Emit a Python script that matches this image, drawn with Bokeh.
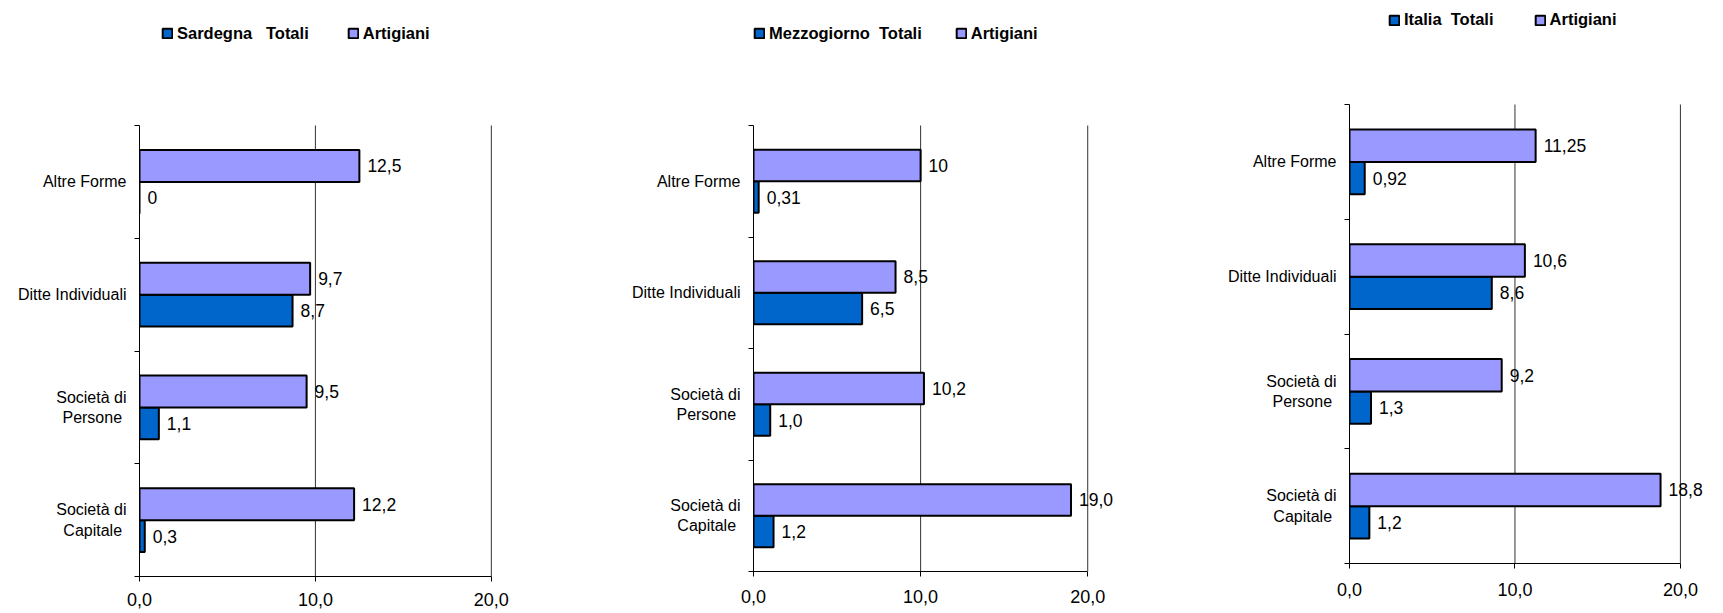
from bokeh.plotting import figure
from bokeh.models import Range1d, FixedTicker, ColumnDataSource, Legend, LegendItem
from bokeh.layouts import row
from bokeh.embed import file_html
from bokeh.resources import INLINE
from bokeh.core.properties import value

# ---------------- data ----------------
categories = ["Altre Forme", "Ditte Individuali", "Società di\nPersone\u00a0", "Società di\nCapitale\u00a0"]
x_ticks = [0, 10, 20]
x_tick_labels = ["0,0", "10,0", "20,0"]

sardegna_totali = [0, 8.7, 1.1, 0.3]
sardegna_totali_labels = ["0", "8,7", "1,1", "0,3"]
sardegna_artigiani = [12.5, 9.7, 9.5, 12.2]
sardegna_artigiani_labels = ["12,5", "9,7", "9,5", "12,2"]

mezzogiorno_totali = [0.31, 6.5, 1.0, 1.2]
mezzogiorno_totali_labels = ["0,31", "6,5", "1,0", "1,2"]
mezzogiorno_artigiani = [10, 8.5, 10.2, 19.0]
mezzogiorno_artigiani_labels = ["10", "8,5", "10,2", "19,0"]

italia_totali = [0.92, 8.6, 1.3, 1.2]
italia_totali_labels = ["0,92", "8,6", "1,3", "1,2"]
italia_artigiani = [11.25, 10.6, 9.2, 18.8]
italia_artigiani_labels = ["11,25", "10,6", "9,2", "18,8"]

series_names = [
    ("Sardegna\u00a0\u00a0\u00a0Totali", "Artigiani"),
    ("Mezzogiorno\u00a0\u00a0Totali", "Artigiani"),
    ("Italia\u00a0\u00a0Totali", "Artigiani"),
]

# ---------------- style ----------------
FONT = "Liberation Sans"
COL_TOT = "#0066CC"
COL_ART = "#9999FF"
BAR_H = 0.283
N = len(categories)
centers = [N - 0.5 - i for i in range(N)]
BORDER_BOTTOM = 37


def make_panel(tot, tot_lab, art, art_lab, names, width,
               bl, br, cat_top, axis_y, xmax, x_standoff, leg_x, leg_cy, leg_spacing):
    # frame spans the canvas from 0 to axis_y; the category band [0, N] is
    # mapped to [cat_top, axis_y], the space above holds the legend
    height = axis_y + BORDER_BOTTOM
    ymax = N * axis_y / (axis_y - cat_top)
    p = figure(width=width, height=height, output_backend="svg",
               toolbar_location=None, x_range=Range1d(0, xmax),
               y_range=Range1d(0, ymax),
               min_border_left=bl, min_border_right=br,
               min_border_top=0, min_border_bottom=BORDER_BOTTOM)
    p.outline_line_color = None
    p.background_fill_color = "white"
    p.border_fill_color = "white"

    # gridlines at the value ticks, only over the category area
    p.segment(x0=x_ticks[1:], x1=x_ticks[1:], y0=0, y1=N,
              line_color="#333333", line_width=1)

    src_tot = ColumnDataSource(dict(y=[c - BAR_H / 2 for c in centers], v=tot, lab=tot_lab))
    src_art = ColumnDataSource(dict(y=[c + BAR_H / 2 for c in centers], v=art, lab=art_lab))

    r_tot = p.hbar(y="y", right="v", left=0, height=BAR_H, source=src_tot,
                   fill_color=COL_TOT, line_color="black", line_width=2)
    r_art = p.hbar(y="y", right="v", left=0, height=BAR_H, source=src_art,
                   fill_color=COL_ART, line_color="black", line_width=2)

    for s_ in (src_tot, src_art):
        p.text(x="v", y="y", text="lab", source=s_, x_offset=8,
               text_baseline="middle", text_align="left",
               text_font=value(FONT), text_font_size="17.5px", text_color="black")

    # x axis
    xa = p.xaxis[0]
    xa.ticker = FixedTicker(ticks=x_ticks)
    xa.major_label_overrides = {t: l for t, l in zip(x_ticks, x_tick_labels)}
    xa.bounds = (x_ticks[0], x_ticks[-1])
    xa.major_tick_out = 5
    xa.major_tick_in = 0
    xa.minor_tick_line_color = None
    xa.major_label_standoff = x_standoff
    xa.major_label_text_font = FONT
    xa.major_label_text_font_size = "18px"
    xa.major_label_text_color = "black"
    xa.axis_line_color = "black"
    xa.major_tick_line_color = "black"

    # y axis
    ya = p.yaxis[0]
    ya.ticker = FixedTicker(ticks=centers, minor_ticks=list(range(N + 1)))
    ya.major_label_overrides = {c: cat for c, cat in zip(centers, categories)}
    ya.bounds = (0, N)
    ya.major_tick_line_color = None
    ya.major_tick_out = 0
    ya.major_tick_in = 0
    ya.minor_tick_out = 5
    ya.minor_tick_in = 0
    ya.minor_tick_line_color = "black"
    ya.major_label_standoff = 8
    ya.major_label_text_font = FONT
    ya.major_label_text_font_size = "16px"
    ya.major_label_text_color = "black"
    ya.axis_line_color = "black"

    p.xgrid.grid_line_color = None
    p.ygrid.grid_line_color = None

    leg = Legend(items=[LegendItem(label=value(names[0]), renderers=[r_tot]),
                        LegendItem(label=value(names[1]), renderers=[r_art])],
                 orientation="horizontal", location=(leg_x, axis_y - (leg_cy + 10)),
                 border_line_color=None, background_fill_alpha=0,
                 padding=0, margin=0, spacing=leg_spacing, label_standoff=4,
                 glyph_width=12, glyph_height=12, label_height=12,
                 label_text_font=FONT, label_text_font_size="16.5px",
                 label_text_font_style="bold", label_text_color="black")
    p.add_layout(leg)
    return p


p1 = make_panel(sardegna_totali, sardegna_totali_labels, sardegna_artigiani,
                sardegna_artigiani_labels, series_names[0],
                608, 139, 82, 125, 576, 22.0, 11, 22, 32.5, 38)
p2 = make_panel(mezzogiorno_totali, mezzogiorno_totali_labels, mezzogiorno_artigiani,
                mezzogiorno_artigiani_labels, series_names[1],
                592, 145, 71, 125, 571, 22.5, 13, 0, 32.5, 33)
p3 = make_panel(italia_totali, italia_totali_labels, italia_artigiani,
                italia_artigiani_labels, series_names[2],
                523, 149, 10, 104, 563, 22.0, 14, 39, 19, 40)

layout = row(p1, p2, p3)
open("out.html", "w").write(file_html(layout, INLINE))
